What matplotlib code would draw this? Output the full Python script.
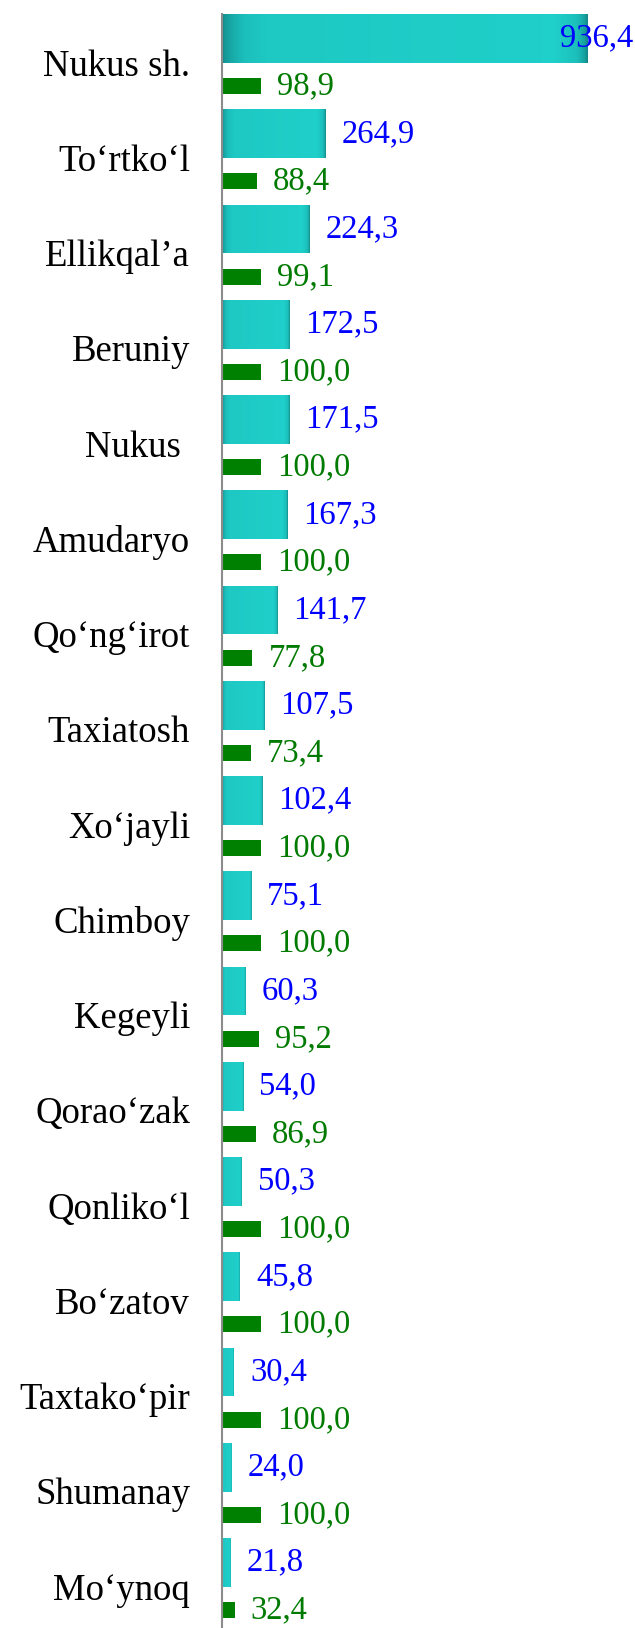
import numpy as np
import matplotlib.pyplot as plt
from matplotlib.colors import LinearSegmentedColormap

# districts, top to bottom
districts = ["Nukus sh.", "To‘rtko‘l", "Ellikqal’a", "Beruniy", "Nukus ",
             "Amudaryo", "Qo‘ng‘irot", "Taxiatosh", "Xo‘jayli", "Chimboy",
             "Kegeyli", "Qorao‘zak", "Qonliko‘l", "Bo‘zatov", "Taxtako‘pir",
             "Shumanay", "Mo‘ynoq"]
teal_vals = [936.4, 264.9, 224.3, 172.5, 171.5, 167.3, 141.7, 107.5, 102.4,
             75.1, 60.3, 54.0, 50.3, 45.8, 30.4, 24.0, 21.8]
green_vals = [98.9, 88.4, 99.1, 100.0, 100.0, 100.0, 77.8, 73.4, 100.0,
              100.0, 95.2, 86.9, 100.0, 100.0, 100.0, 100.0, 32.4]

plt.rcParams['font.family'] = ['Liberation Serif', 'DejaVu Serif']

W, H = 635, 1628
fig = plt.figure(figsize=(W / 100, H / 100), dpi=100)
ax = fig.add_axes([222 / W, 0, 1 - 222 / W, 1 - 14 / H])

xmax = 413 * 936.4 / 366
y = np.arange(len(districts))

teal_bars = ax.barh(y, teal_vals, height=0.514, color='#1ec6c2', zorder=2)
green_bars = ax.barh(y + 0.5, green_vals, height=0.168, color='#008000', zorder=2)

# cylinder-like shading on the teal bars
dark = '#138a8a'
mid = '#1cbfbb'
bright = '#20d0ca'
cmap = LinearSegmentedColormap.from_list('tl', [(0, dark), (0.5, mid), (1, bright)])
t = np.linspace(0, 1, 200)
prof = np.minimum(np.minimum(t / 0.12, (1 - t) / 0.09), 1.0) ** 0.6
prof = prof * (0.75 + 0.25 * t)
grad = prof[np.newaxis, :]
for p in teal_bars:
    x0, y0 = p.get_x(), p.get_y()
    im = ax.imshow(grad, cmap=cmap, vmin=0, vmax=1, aspect='auto',
                   extent=(x0, x0 + p.get_width(), y0 + p.get_height(), y0),
                   interpolation='bilinear', zorder=3)
    im.set_clip_path(p)

# value labels
for i, v in enumerate(teal_vals):
    txt = f"{v:.1f}".replace('.', ',')
    if v > 800:
        ax.text(xmax * 0.996, i, txt, color='#0000ff', fontsize=23.5,
                va='center', ha='right', zorder=5)
    else:
        ax.annotate(txt, (v, i), xytext=(16, 0), textcoords='offset pixels',
                    color='#0000ff', fontsize=23.5, va='center', ha='left')
for i, v in enumerate(green_vals):
    txt = f"{v:.1f}".replace('.', ',')
    ax.annotate(txt, (v, i + 0.5), xytext=(16, 0), textcoords='offset pixels',
                color='#007a00', fontsize=23.5, va='center', ha='left')

ax.set_xlim(0, xmax)
ax.set_ylim((1628 - 38.5) / 95.25, -0.257)

ax.set_yticks(y + 0.25)
ax.set_yticklabels(districts, fontsize=26.5)
ax.tick_params(axis='y', length=0, pad=23)
ax.set_xticks([])
for s in ['top', 'right', 'bottom']:
    ax.spines[s].set_visible(False)
ax.spines['left'].set_color('#8c8c8c')
ax.spines['left'].set_linewidth(1.5)
ax.spines['left'].set_zorder(6)

fig.savefig('out.png', dpi=100)
